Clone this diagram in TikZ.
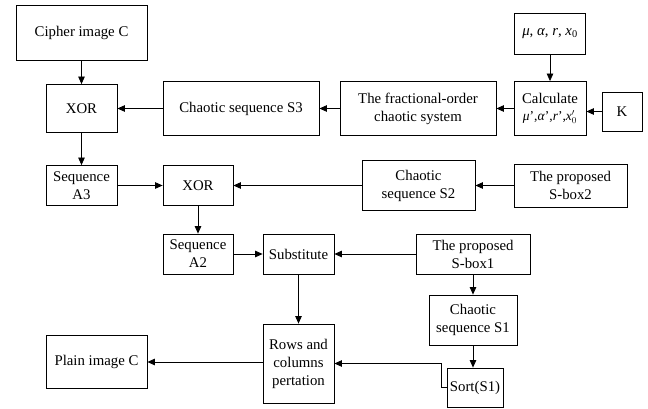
\documentclass[tikz,border=0pt]{standalone}
\usepackage{fontspec}
\setmainfont{Liberation Serif}
\usetikzlibrary{arrows.meta}
\newcommand{\mathvar}[1]{\textit{#1}}
\tikzset{
  blk/.style={draw, line width=0.8pt, inner sep=0pt, align=center,
    font=\fontsize{14.8}{18}\selectfont},
  >={Triangle[length=7.5pt,width=6.5pt]},
}

\begin{document}
\begin{tikzpicture}[
  x=1pt, y=-1pt,
  ->, line width=0.8pt,
]
\useasboundingbox (0,0) rectangle (648,409);

% top rows
\node[blk, minimum width=131, minimum height=55] (cipher) at (81.5,32.5) {Cipher image C};
\node[blk, minimum width=71, minimum height=41] (mu) at (550,33.5)
  {\mathvar{μ}, \mathvar{α}, \mathvar{r}, \mathvar{x}\textsubscript{0}};
\node[blk, minimum width=71, minimum height=48] (xorA) at (81.5,108.5) {XOR};
\node[blk, minimum width=156, minimum height=54] (seqS3) at (241,108.5) {Chaotic sequence S3};
\node[blk, minimum width=156, minimum height=54] (frac) at (418,108.5) {The fractional-order\\chaotic system};
\node[blk, minimum width=72, minimum height=54] (calc) at (550,108.5)
  {Calculate\\[-1pt]{\fontsize{13.5}{16}\selectfont\mathvar{μ}',\mathvar{α}',\mathvar{r}',\mathvar{x}$^{\prime}_{0}$}};
\node[blk, minimum width=40, minimum height=39] (key) at (622,111.5) {K};

% middle rows
\node[blk, minimum width=71, minimum height=40] (seqA3) at (81.5,185.5) {Sequence\\A3};
\node[blk, minimum width=70, minimum height=40] (xorB) at (198,185.5) {XOR};
\node[blk, minimum width=113, minimum height=50] (seqS2) at (418.5,185.5) {Chaotic\\sequence S2};
\node[blk, minimum width=113, minimum height=43] (sbox2) at (570.5,185.5) {The proposed\\S-box2};
\node[blk, minimum width=70, minimum height=40] (seqA2) at (198,254) {Sequence\\A2};
\node[blk, minimum width=71, minimum height=40] (subst) at (298.5,254) {Substitute};
\node[blk, minimum width=114, minimum height=40] (sbox1) at (473,254) {The proposed\\S-box1};

% bottom rows
\node[blk, minimum width=88, minimum height=50] (seqS1) at (473,320) {Chaotic\\sequence S1};
\node[blk, minimum width=71, minimum height=79] (rows) at (298.5,363.5) {Rows and\\columns\\pertation};
\node[blk, minimum width=101, minimum height=53] (plain) at (96.5,362) {Plain image C};
\node[blk, minimum width=56, minimum height=39] (sort) at (475,387.5) {Sort(S1)};

\path
(cipher) edge (xorA)
(mu) edge (calc)
(calc) edge (frac)
(frac) edge (seqS3)
(seqS3) edge (xorA)
(xorA) edge (seqA3)
(seqA3) edge (xorB)
(seqS2) edge (xorB)
(sbox2) edge (seqS2)
(xorB) edge (seqA2)
(seqA2) edge (subst)
(sbox1) edge (subst)
(subst) edge (rows)
(sbox1) edge (seqS1);
\draw (key.west) -- (key.west -| calc.east);
\draw (seqS1.south) -- (seqS1.south |- sort.north);
\draw (rows.west |- plain.east) -- (plain.east);
\draw (sort.west) -- ++(-5,0) |- (rows.east);
\end{tikzpicture}
\end{document}
